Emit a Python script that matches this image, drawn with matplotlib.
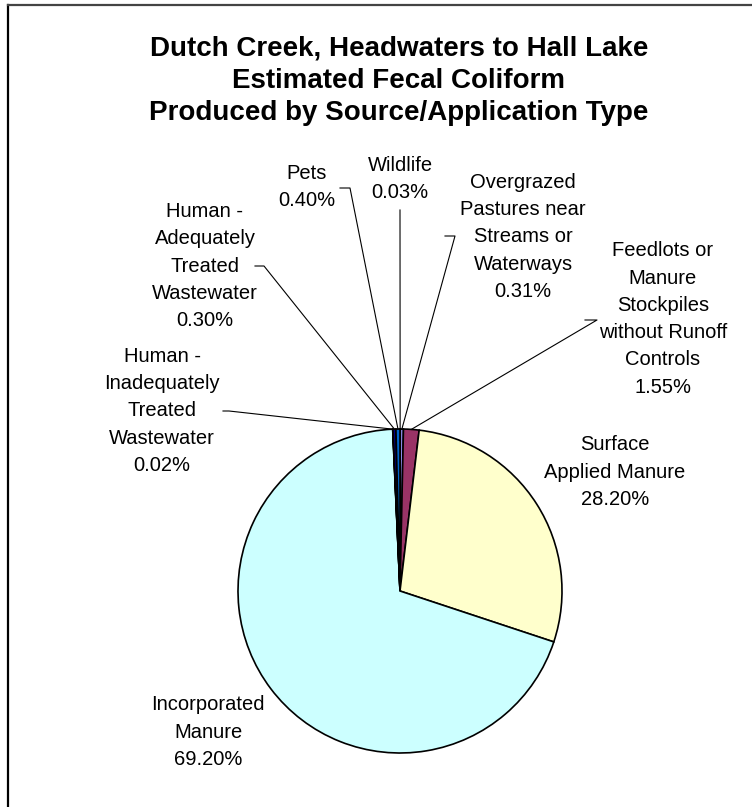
import numpy as np
import matplotlib
matplotlib.use("Agg")
import matplotlib.pyplot as plt
from matplotlib.lines import Line2D

plt.rcParams['font.family'] = ['Liberation Sans', 'DejaVu Sans']

W, H = 752, 807

TITLE = "Dutch Creek, Headwaters to Hall Lake\nEstimated Fecal Coliform\nProduced by Source/Application Type"

# slices clockwise from 12 o'clock
sources = [
    "Wildlife",
    "Overgrazed\nPastures near\nStreams or\nWaterways",
    "Feedlots or\nManure\nStockpiles\nwithout Runoff\nControls",
    "Surface\nApplied Manure",
    "Incorporated\nManure",
    "Human -\nInadequately\nTreated\nWastewater",
    "Human -\nAdequately\nTreated\nWastewater",
    "Pets",
]
shares = [0.03, 0.31, 1.55, 28.20, 69.20, 0.02, 0.30, 0.40]
colors = ["#CCCCFF", "#9999FF", "#993366", "#FFFFCC", "#CCFFFF", "#660066", "#000080", "#0066CC"]

# label centres (pixels from top-left) and leader elbows
label_xy = [(400, 179), (523, 237), (663, 319), (615, 472), (208, 732), (162, 411), (205, 266), (307, 187)]
leaders = [
    [(400, 210)],
    [(445, 236), (455, 236)],
    [(585, 320), (597, 320)],
    None,
    None,
    [(223, 411), (229, 411)],
    [(255, 266), (264, 266)],
    [(340, 188), (350, 188)],
]


def main():
    fig = plt.figure(figsize=(W / 100, H / 100), dpi=100)
    ax = fig.add_axes([0, 0, 1, 1])

    cx, cy, r = 400, H - 591, 162
    wedges, _ = ax.pie(shares, colors=colors, startangle=90, counterclock=False,
                       center=(cx, cy), radius=r,
                       wedgeprops=dict(edgecolor="black", linewidth=1.2))
    ax.set_xlim(0, W)
    ax.set_ylim(0, H)
    ax.set_aspect("equal")
    ax.axis("off")

    for w, name, share, (tx, ty), pts in zip(wedges, sources, shares, label_xy, leaders):
        ax.text(tx, H - ty, f"{name}\n{share:.2f}%", ha="center", va="center",
                fontsize=14.5, linespacing=1.55, color="black")
        if pts is None:
            continue
        ang = np.deg2rad((w.theta1 + w.theta2) / 2)
        xs = [p[0] for p in pts] + [cx + r * np.cos(ang)]
        ys = [H - p[1] for p in pts] + [cy + r * np.sin(ang)]
        ax.plot(xs, ys, color="black", linewidth=0.8)

    ax.text(399, H - 81, TITLE, ha="center", va="center", fontsize=20,
            fontweight="bold", linespacing=1.3)

    # chart frame (only left and top edges fall inside the picture)
    fig.add_artist(Line2D([8 / W, 8 / W], [0, 1 - 5 / H], transform=fig.transFigure,
                          color="black", linewidth=1.6))
    fig.add_artist(Line2D([8 / W, 1], [1 - 5 / H, 1 - 5 / H], transform=fig.transFigure,
                          color="#444444", linewidth=1.6))

    plt.savefig("out.png", dpi=100)


if __name__ == "__main__":
    main()
